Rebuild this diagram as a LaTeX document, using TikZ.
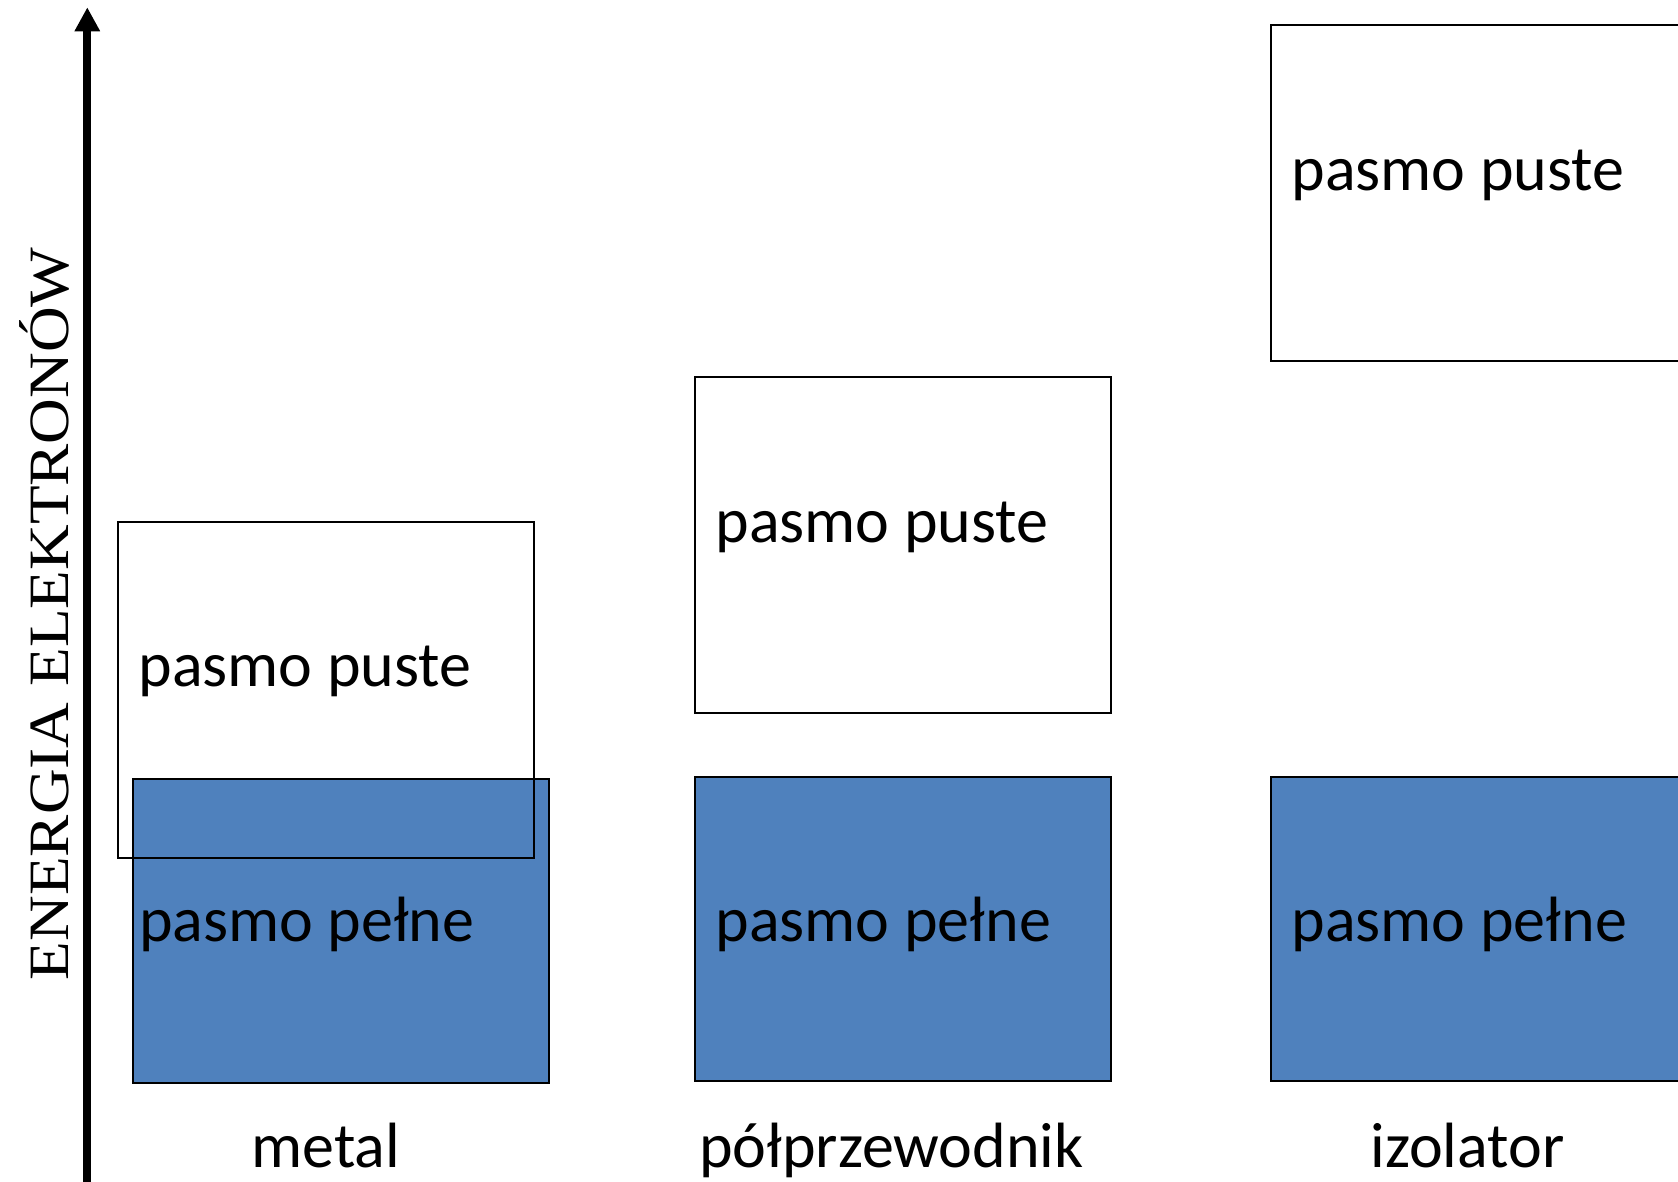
\documentclass[tikz,border=0pt]{standalone}
\usepackage{fontspec}
\setmainfont{Carlito}
\newfontfamily\timesfont{Liberation Serif}
\usetikzlibrary{arrows.meta}
\definecolor{bandblue}{HTML}{4F81BD}
\begin{document}
\begin{tikzpicture}[x=1bp,y=-1bp,
  emptyband/.style={draw=black, line width=2bp, minimum width=416bp, minimum height=336bp, inner sep=0pt, outer sep=0pt},
  fullband/.style={draw=black, fill=bandblue, line width=2bp, minimum width=416bp, minimum height=304bp, inner sep=0pt, outer sep=0pt},
  bandtext/.style={anchor=base west, inner sep=0pt, outer sep=0pt, font=\fontsize{64bp}{76bp}\selectfont},
  axislabel/.style={anchor=base west, rotate=90, inner sep=0pt, outer sep=0pt, font=\timesfont\fontsize{57bp}{68bp}\selectfont},
  axisline/.style={line width=8bp, -{Triangle[width=24bp,length=24bp]}}
  ]
\useasboundingbox (0,0) rectangle (1678,1181);
\clip (0,0) rectangle (1678,1181);

% axis
\coordinate (axisbot) at (87.3,1195);
\coordinate (axistop) at (87.3,7.3);
\draw[axisline] (axisbot) -- (axistop);
\node[axislabel] (energia) at (68,980) {\scalebox{1.11}[1]{ENERGIA ELEKTRONÓW}};

% metal
\node[fullband] (metalfull) at (340.7,930.5) {};
\node[emptyband] (metalempty) at (325.7,689.7) {};
\node[bandtext] (metalemptytxt) at (138.5,686.7) {pasmo puste};
\node[bandtext] (metalfulltxt) at (139,941.7) {pasmo pełne};
\node[bandtext] (metallabel) at (251.5,1167) {metal};

% semiconductor
\node[emptyband] (semiempty) at (903,544.5) {};
\node[fullband] (semifull) at (903,928.7) {};
\node[bandtext] (semiemptytxt) at (715.5,542.7) {pasmo puste};
\node[bandtext] (semifulltxt) at (715.5,941.7) {pasmo pełne};
\node[bandtext] (semilabel) at (699,1167) {półprzewodnik};

% insulator
\node[emptyband] (insempty) at (1478.7,192.7) {};
\node[fullband] (insfull) at (1478.7,928.7) {};
\node[bandtext] (insemptytxt) at (1291.5,190.7) {pasmo puste};
\node[bandtext] (insfulltxt) at (1291.5,941.7) {pasmo pełne};
\node[bandtext] (inslabel) at (1370.5,1167) {izolator};
\end{tikzpicture}
\end{document}
